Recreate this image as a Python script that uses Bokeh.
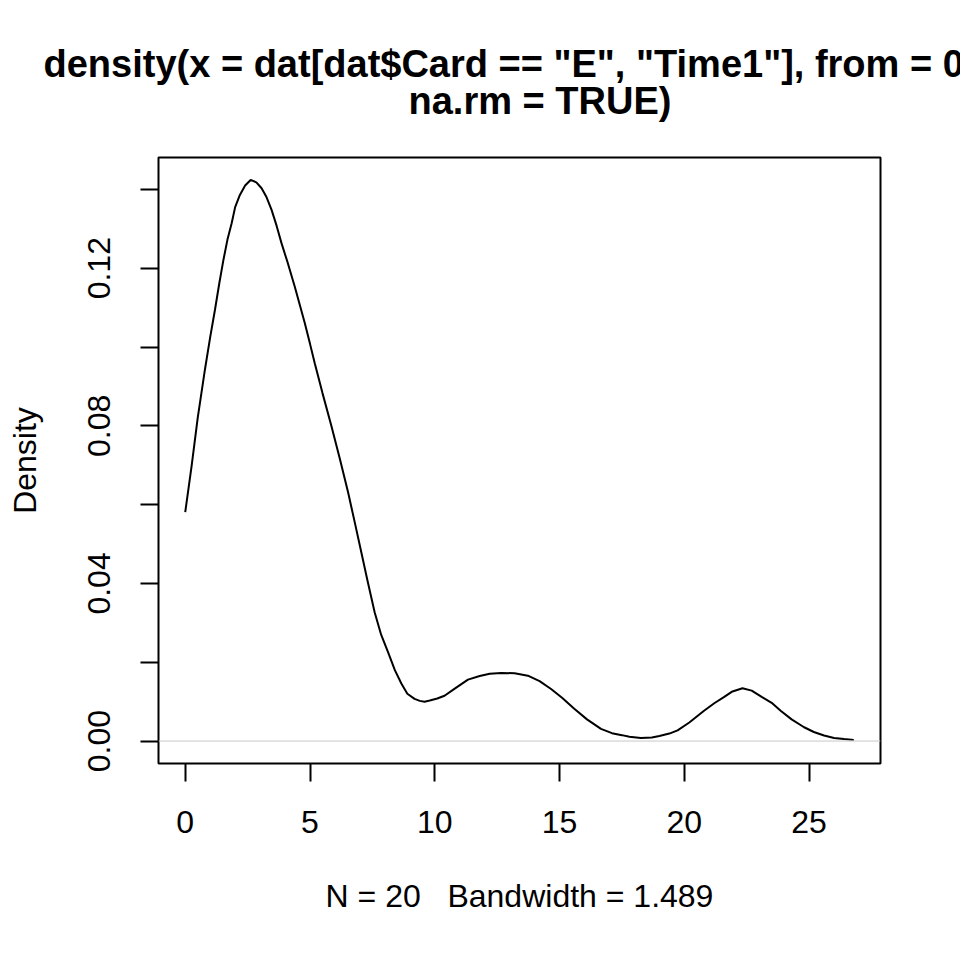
from bokeh.plotting import figure
from bokeh.models import Range1d, FixedTicker, Span, Title
from bokeh.embed import file_html
from bokeh.resources import INLINE

# ---- data ----
x_vals = [0, 0.26, 0.5, 0.79, 1.0, 1.19, 1.36, 1.53, 1.7, 1.86, 2.0, 2.19, 2.4,
          2.62, 2.85, 3.06, 3.26, 3.46, 3.66, 3.86, 4.1, 4.39, 4.6, 4.79, 5.0,
          5.19, 5.5, 5.86, 6.2, 6.53, 6.8, 7.06, 7.3, 7.59, 7.85, 8.13, 8.4,
          8.66, 8.9, 9.19, 9.4, 9.59, 9.8, 10.1, 10.39, 10.8, 11.33, 11.8,
          12.2, 12.66, 13.2, 13.73, 14.2, 14.66, 15.1, 15.59, 16.1, 16.66,
          17.1, 17.5, 17.8, 18.26, 18.7, 19.0, 19.4, 19.73, 20.2, 20.79, 21.2,
          21.6, 21.9, 22.33, 22.7, 23.1, 23.5, 23.86, 24.3, 24.8, 25.19, 25.6,
          26.0, 26.4, 26.79]
dens = [0.0581, 0.0700, 0.0820, 0.0943, 0.1025, 0.1094, 0.1160, 0.1221, 0.1275,
        0.1314, 0.1355, 0.1386, 0.1410, 0.1424, 0.1418, 0.1403, 0.1380, 0.1348,
        0.1308, 0.1263, 0.1215, 0.1153, 0.1105, 0.1061, 0.1008, 0.0959, 0.0883,
        0.0799, 0.0715, 0.0630, 0.0553, 0.0478, 0.0408, 0.0327, 0.0270, 0.0225,
        0.0180, 0.0146, 0.0120, 0.0107, 0.0102, 0.0100, 0.0103, 0.0108, 0.0115,
        0.0133, 0.0156, 0.0165, 0.0171, 0.0173, 0.0172, 0.0166, 0.0152, 0.0132,
        0.0110, 0.0082, 0.0055, 0.0031, 0.0020, 0.0015, 0.0011, 0.0008, 0.0009,
        0.0013, 0.0019, 0.0027, 0.0047, 0.0077, 0.0096, 0.0112, 0.0125, 0.0134,
        0.0128, 0.0112, 0.0097, 0.0077, 0.0055, 0.0035, 0.0023, 0.0014, 0.0008,
        0.0005, 0.0003]
x_ticks = [0, 5, 10, 15, 20, 25]
y_ticks = [0.0, 0.02, 0.04, 0.06, 0.08, 0.10, 0.12, 0.14]
y_tick_labels = ["0.00", "", "0.04", "", "0.08", "", "0.12", ""]
title_line1 = 'density(x = dat[dat$Card == "E", "Time1"], from = 0,'
title_line2 = 'na.rm = TRUE)'
x_label = "N = 20\u00a0\u00a0\u00a0Bandwidth = 1.489"
y_label = "Density"

FONT = "Liberation Sans"

xmin, xmax = min(x_vals), max(x_vals)
ymin, ymax = 0.0, max(dens)
xpad = 0.04 * (xmax - xmin)
ypad = 0.04 * (ymax - ymin)

p = figure(width=960, height=960, output_backend="svg", toolbar_location=None,
           x_range=Range1d(xmin - xpad, xmax + xpad),
           y_range=Range1d(ymin - ypad, ymax + ypad),
           min_border_left=158, min_border_right=80,
           min_border_top=157, min_border_bottom=197)
p.background_fill_color = "white"
p.border_fill_color = "white"
p.grid.visible = False
p.outline_line_color = "black"
p.outline_line_width = 2
p.outline_line_alpha = 1.0

# zero line
p.add_layout(Span(location=0, dimension="width", line_color="#c8c8c8", line_width=1))

p.line(x_vals, dens, line_color="black", line_width=2)

for ax in (p.xaxis[0], p.yaxis[0]):
    ax.axis_line_color = None
    ax.major_tick_in = 0
    ax.major_tick_out = 18
    ax.major_tick_line_width = 2
    ax.major_tick_line_color = "black"
    ax.minor_tick_line_color = None
    ax.major_label_text_font = FONT
    ax.major_label_text_font_size = "32px"
    ax.major_label_text_color = "black"
    ax.axis_label_text_font = FONT
    ax.axis_label_text_font_size = "32px"
    ax.axis_label_text_font_style = "normal"
    ax.axis_label_text_color = "black"

p.xaxis.ticker = FixedTicker(ticks=x_ticks)
p.xaxis.major_label_standoff = 29
p.xaxis.axis_label = x_label
p.xaxis.axis_label_standoff = 42

p.yaxis.ticker = FixedTicker(ticks=y_ticks)
p.yaxis.major_label_overrides = {t: l for t, l in zip(y_ticks, y_tick_labels)}
p.yaxis.major_label_orientation = "vertical"
p.yaxis.major_label_standoff = 30
p.yaxis.axis_label = y_label
p.yaxis.axis_label_standoff = 43

# title: two lines (outer line = p.title, inner line = added Title)
p.title.text = title_line1
p.title.align = "left"
p.title.offset = -115
p.title.text_font = FONT
p.title.text_font_size = "38px"
p.title.text_font_style = "bold"
p.title.text_color = "black"
p.title.standoff = -86

t2 = Title(text=title_line2, align="left", offset=250, text_font=FONT,
           text_font_size="38px", text_font_style="bold", text_color="black",
           standoff=72)
p.add_layout(t2, "above")

open("out.html", "w").write(file_html(p, INLINE))
